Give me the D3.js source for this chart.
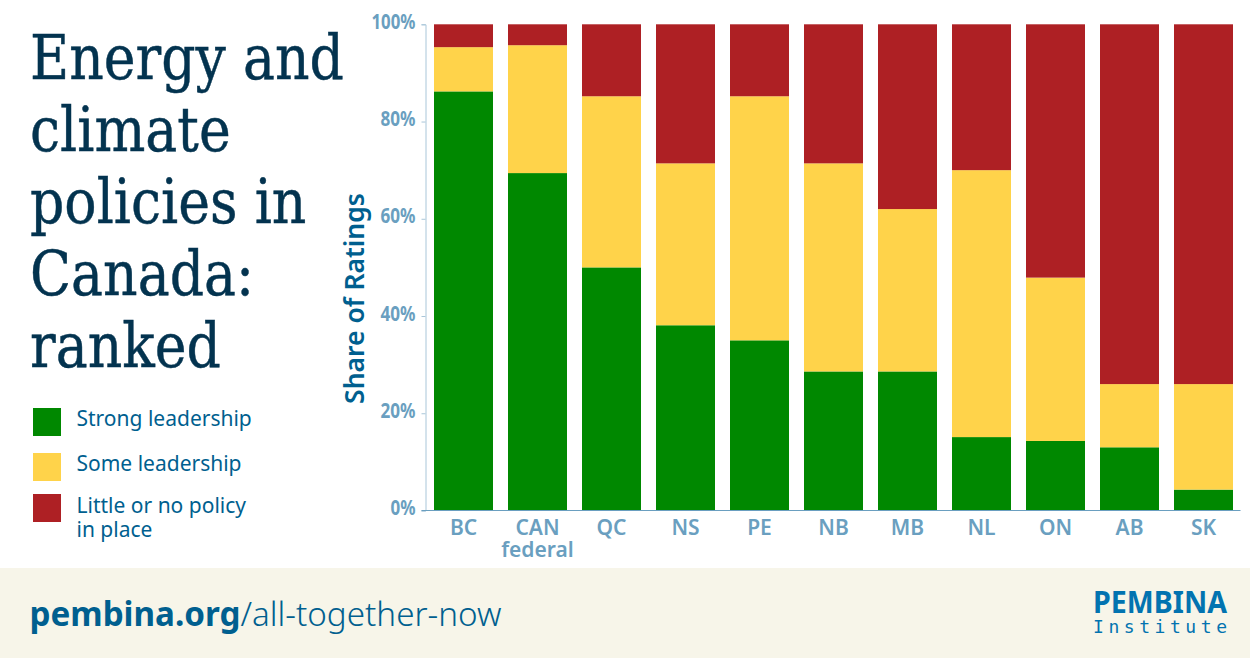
<!DOCTYPE html>
<html>
<head>
<meta charset="utf-8">
<script src="https://cdn.jsdelivr.net/npm/d3@7"></script>
<style>
  html, body { margin: 0; padding: 0; background: #fff; }
  svg { display: block; }
  text { font-family: "Noto Sans", sans-serif; }
</style>
</head>
<body>
<svg id="chart" width="1250" height="658"></svg>
<script>
var provinces = ["BC", "CAN", "QC", "NS", "PE", "NB", "MB", "NL", "ON", "AB", "SK"];
var strong = [86.2, 69.4, 50, 38.1, 35, 28.6, 28.6, 15.1, 14.3, 13, 4.3];
var some = [9.1, 26.3, 35.2, 33.3, 50.2, 42.8, 33.4, 54.9, 33.6, 13, 21.7];
var little = [4.7, 4.3, 14.8, 28.6, 14.8, 28.6, 38, 30, 52.1, 74, 74];
var yTicks = [0, 20, 40, 60, 80, 100];
var seriesKeys = ["strong", "some", "little"];
var seriesColors = ["#008800", "#ffd34a", "#ae2024"];
var legendLabels = [["Strong leadership"], ["Some leadership"], ["Little or no policy", "in place"]];
var titleLines = ["Energy and", "climate", "policies in", "Canada:", "ranked"];

var svg = d3.select("#chart");

// table for the stack layout
var rows = provinces.map(function(p, i) {
  return { province: p, strong: strong[i], some: some[i], little: little[i] };
});

var x = d3.scaleBand().domain(provinces).range([426.5, 1240.5]).paddingInner(15 / 74).paddingOuter(7.5 / 74);
var y = d3.scaleLinear().domain([0, 100]).range([510.5, 24.3]);
var color = d3.scaleOrdinal().domain(seriesKeys).range(seriesColors);

var stacked = d3.stack().keys(seriesKeys)(rows);

svg.append("g").selectAll("g")
  .data(stacked)
  .join("g")
  .attr("fill", function(d) { return color(d.key); })
  .selectAll("rect")
  .data(function(d) { return d; })
  .join("rect")
  .attr("x", function(d) { return x(d.data.province); })
  .attr("width", x.bandwidth())
  .attr("y", function(d) { return y(d[1]); })
  .attr("height", function(d) { return y(d[0]) - y(d[1]); });

// y axis
var yAxis = svg.append("g")
  .attr("transform", "translate(425.5,0)")
  .call(d3.axisLeft(y).tickValues(yTicks).tickSize(4).tickPadding(6).tickFormat(function(d) { return d + "%"; }));
yAxis.select(".domain").attr("stroke", "#a9c6d9").attr("stroke-width", 1);
yAxis.selectAll(".tick line").attr("stroke", "#a9c6d9");
yAxis.selectAll("text")
  .attr("fill", "#6a9fc0")
  .attr("font-size", 21)
  .attr("font-weight", 700)
  .style("font-family", '"Noto Sans", sans-serif')
  .attr("dy", "0.2em")
  .attr("textLength", function(d) { return d == 100 ? 44 : d == 0 ? 25 : 35; })
  .attr("lengthAdjust", "spacingAndGlyphs");

// x axis
var xAxis = svg.append("g")
  .attr("transform", "translate(0,510.5)")
  .call(d3.axisBottom(x).tickSize(0).tickPadding(10));
xAxis.select(".domain").attr("stroke", "#6a9fc0").attr("stroke-width", 1).attr("d", "M421.5,0H1240.5");
xAxis.selectAll("text")
  .attr("fill", "#6a9fc0")
  .attr("font-size", 21)
  .attr("font-weight", 600)
  .style("font-family", '"Noto Sans", sans-serif');
svg.append("text")
  .attr("x", x("CAN") + x.bandwidth() / 2)
  .attr("y", 556.7)
  .attr("text-anchor", "middle")
  .attr("fill", "#6a9fc0")
  .attr("font-size", 21)
  .attr("font-weight", 600)
  .text("federal");

// y axis title
svg.append("text")
  .attr("transform", "translate(364,298.5) rotate(-90)")
  .attr("text-anchor", "middle")
  .attr("fill", "#005f8f")
  .attr("font-size", 26.5)
  .attr("font-weight", 600)
  .text("Share of Ratings");

// title
svg.append("g").selectAll("text")
  .data(titleLines)
  .join("text")
  .attr("transform", function(d, i) { return "translate(30," + (79 + i * 72) + ") scale(0.866,1)"; })
  .attr("fill", "#03334f")
  .attr("stroke", "#03334f")
  .attr("stroke-width", 0.5)
  .attr("font-size", 62)
  .style("font-family", '"DejaVu Serif", serif')
  .text(function(d) { return d; });

// legend
var legendTop = [408, 453, 494];
var legend = svg.append("g").selectAll("g")
  .data(seriesKeys)
  .join("g")
  .attr("transform", function(d, i) { return "translate(33," + legendTop[i] + ")"; });
legend.append("rect")
  .attr("width", 28)
  .attr("height", 28)
  .attr("fill", function(d) { return color(d); });
legend.each(function(d, i) {
  d3.select(this).selectAll("text")
    .data(legendLabels[i])
    .join("text")
    .attr("x", 43.5)
    .attr("y", function(t, j) { return 18 + (i == 2 ? 1 : 0) + j * 24; })
    .attr("fill", "#005f8f")
    .attr("font-size", 21)
    .text(function(t) { return t; });
});

// footer
svg.append("rect").attr("x", 0).attr("y", 568).attr("width", 1250).attr("height", 90).attr("fill", "#f7f5e9");
var url = svg.append("text").attr("x", 29.5).attr("y", 626).attr("fill", "#005f8f").attr("font-size", 33.2);
url.append("tspan").attr("font-weight", 700).text("pembina.org");
url.append("tspan").attr("font-weight", 300).text("/all-together-now");

svg.append("text")
  .attr("x", 1093).attr("y", 613)
  .attr("fill", "#0273b0")
  .attr("font-size", 29.5)
  .attr("font-weight", 700)
  .attr("textLength", 134)
  .attr("lengthAdjust", "spacingAndGlyphs")
  .text("PEMBINA");
svg.append("text")
  .attr("x", 1093).attr("y", 633)
  .attr("fill", "#0273b0")
  .attr("font-size", 18)
  .attr("textLength", 134)
  .style("font-family", '"DejaVu Sans Mono", monospace')
  .text("Institute");
</script>
</body>
</html>
